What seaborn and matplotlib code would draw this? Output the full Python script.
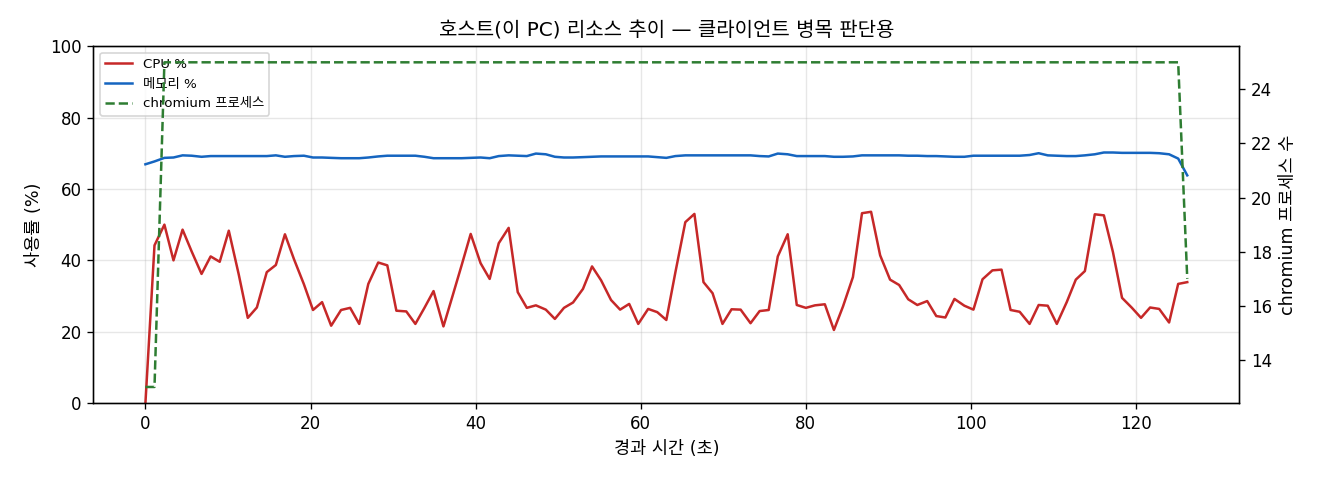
import matplotlib
matplotlib.use("Agg")
import matplotlib.pyplot as plt
import seaborn as sns
import pandas as pd

elapsed_s = [0.0, 1.1, 2.3, 3.4, 4.5, 5.6, 6.8, 7.9, 9.0, 10.1, 11.3, 12.4, 13.5, 14.7, 15.8, 16.9,
             18.0, 19.2, 20.3, 21.4, 22.5, 23.7, 24.8, 25.9, 27.0, 28.2, 29.3, 30.4, 31.6, 32.7, 33.8,
             34.9, 36.1, 37.2, 38.3, 39.4, 40.6, 41.7, 42.8, 44.0, 45.1, 46.2, 47.3, 48.5, 49.6, 50.7,
             51.8, 53.0, 54.1, 55.2, 56.4, 57.5, 58.6, 59.7, 60.9, 62.0, 63.1, 64.2, 65.4, 66.5, 67.6,
             68.7, 69.9, 71.0, 72.1, 73.3, 74.4, 75.5, 76.6, 77.8, 78.9, 80.0, 81.1, 82.3, 83.4, 84.5,
             85.7, 86.8, 87.9, 89.0, 90.2, 91.3, 92.4, 93.5, 94.7, 95.8, 96.9, 98.0, 99.2, 100.3, 101.4,
             102.6, 103.7, 104.8, 105.9, 107.1, 108.2, 109.3, 110.4, 111.6, 112.7, 113.8, 115.0, 116.1,
             117.2, 118.3, 119.5, 120.6, 121.7, 122.8, 124.0, 125.1, 126.2]

cpu_pct = [0.0, 44.2, 50.0, 40.0, 48.6, 42.5, 36.2, 41.1, 39.6, 48.3, 36.1, 23.9, 26.8, 36.7, 38.7, 47.3,
           40.3, 33.3, 26.1, 28.3, 21.7, 26.1, 26.7, 22.2, 33.4, 39.4, 38.6, 25.9, 25.7, 22.2, 26.7,
           31.4, 21.5, 30.0, 38.6, 47.4, 39.2, 34.8, 44.8, 49.1, 31.1, 26.7, 27.4, 26.2, 23.6, 26.7,
           28.2, 32.0, 38.3, 34.4, 28.9, 26.2, 27.8, 22.2, 26.4, 25.5, 23.3, 36.7, 50.7, 53.0, 33.9,
           30.8, 22.2, 26.3, 26.2, 22.4, 25.8, 26.1, 41.1, 47.3, 27.5, 26.7, 27.4, 27.7, 20.5, 27.1,
           35.3, 53.2, 53.6, 41.4, 34.6, 33.1, 29.1, 27.5, 28.6, 24.4, 24.0, 29.2, 27.3, 26.2, 34.7,
           37.2, 37.4, 26.1, 25.6, 22.2, 27.5, 27.3, 22.2, 28.3, 34.6, 37.0, 52.9, 52.6, 42.3, 29.5,
           26.7, 23.9, 26.8, 26.4, 22.6, 33.4, 33.9]

mem_pct = [66.9, 67.7, 68.7, 68.8, 69.4, 69.3, 69.0, 69.2, 69.2, 69.2, 69.2, 69.2, 69.2, 69.2, 69.4, 69.0,
           69.2, 69.3, 68.8, 68.8, 68.7, 68.6, 68.6, 68.6, 68.8, 69.1, 69.3, 69.3, 69.3, 69.3, 69.0,
           68.6, 68.6, 68.6, 68.6, 68.7, 68.8, 68.6, 69.2, 69.4, 69.3, 69.2, 69.9, 69.7, 69.0, 68.8,
           68.8, 68.9, 69.0, 69.1, 69.1, 69.1, 69.1, 69.1, 69.1, 68.9, 68.7, 69.2, 69.4, 69.4, 69.4,
           69.4, 69.4, 69.4, 69.4, 69.4, 69.2, 69.1, 69.9, 69.7, 69.2, 69.2, 69.2, 69.2, 69.0, 69.0,
           69.1, 69.4, 69.4, 69.4, 69.4, 69.4, 69.3, 69.3, 69.2, 69.2, 69.1, 69.0, 69.0, 69.3, 69.3,
           69.3, 69.3, 69.3, 69.3, 69.5, 70.0, 69.4, 69.3, 69.2, 69.2, 69.4, 69.7, 70.2, 70.2, 70.1,
           70.1, 70.1, 70.1, 70.0, 69.7, 68.5, 63.8]

chromium_procs = [13, 13, 25, 25, 25, 25, 25, 25, 25, 25, 25, 25, 25, 25, 25, 25,
                  25, 25, 25, 25, 25, 25, 25, 25, 25, 25, 25, 25, 25, 25, 25,
                  25, 25, 25, 25, 25, 25, 25, 25, 25, 25, 25, 25, 25, 25, 25,
                  25, 25, 25, 25, 25, 25, 25, 25, 25, 25, 25, 25, 25, 25, 25,
                  25, 25, 25, 25, 25, 25, 25, 25, 25, 25, 25, 25, 25, 25, 25,
                  25, 25, 25, 25, 25, 25, 25, 25, 25, 25, 25, 25, 25, 25, 25,
                  25, 25, 25, 25, 25, 25, 25, 25, 25, 25, 25, 25, 25, 25, 25,
                  25, 25, 25, 25, 25, 25, 17]

title = "호스트(이 PC) 리소스 추이 — 클라이언트 병목 판단용"
label_cpu = "CPU %"
label_mem = "메모리 %"
label_chrome = "chromium 프로세스"

df = pd.DataFrame({"t": elapsed_s, "cpu": cpu_pct, "mem": mem_pct, "chrome": chromium_procs})

plt.rcParams["font.family"] = ["DejaVu Sans", "Noto Sans CJK KR"]
plt.rcParams["axes.unicode_minus"] = False

fig, ax = plt.subplots(figsize=(11, 4), dpi=120)
fig.subplots_adjust(left=0.0707, right=0.9389, top=0.904, bottom=0.160)

sns.lineplot(data=df, x="t", y="cpu", ax=ax, color="#c62828", linewidth=1.5, label=label_cpu, legend=False)
sns.lineplot(data=df, x="t", y="mem", ax=ax, color="#1565c0", linewidth=1.5, label=label_mem, legend=False)
ax.set_ylim(0, 100)
ax.set_xlabel("경과 시간 (초)", fontsize=10.5)
ax.set_ylabel("사용률 (%)", fontsize=10.5)
ax.grid(True, alpha=0.3)
ax.set_title(title, fontsize=12)

ax2 = ax.twinx()
sns.lineplot(data=df, x="t", y="chrome", ax=ax2, color="#2e7d32", linewidth=1.5,
             linestyle="--", label=label_chrome, legend=False)
ax2.set_ylabel("chromium 프로세스 수", fontsize=10.5)

h1, l1 = ax.get_legend_handles_labels()
h2, l2 = ax2.get_legend_handles_labels()
ax.legend(h1 + h2, l1 + l2, loc="upper left", fontsize=8)

fig.savefig("out.png", dpi=120)
